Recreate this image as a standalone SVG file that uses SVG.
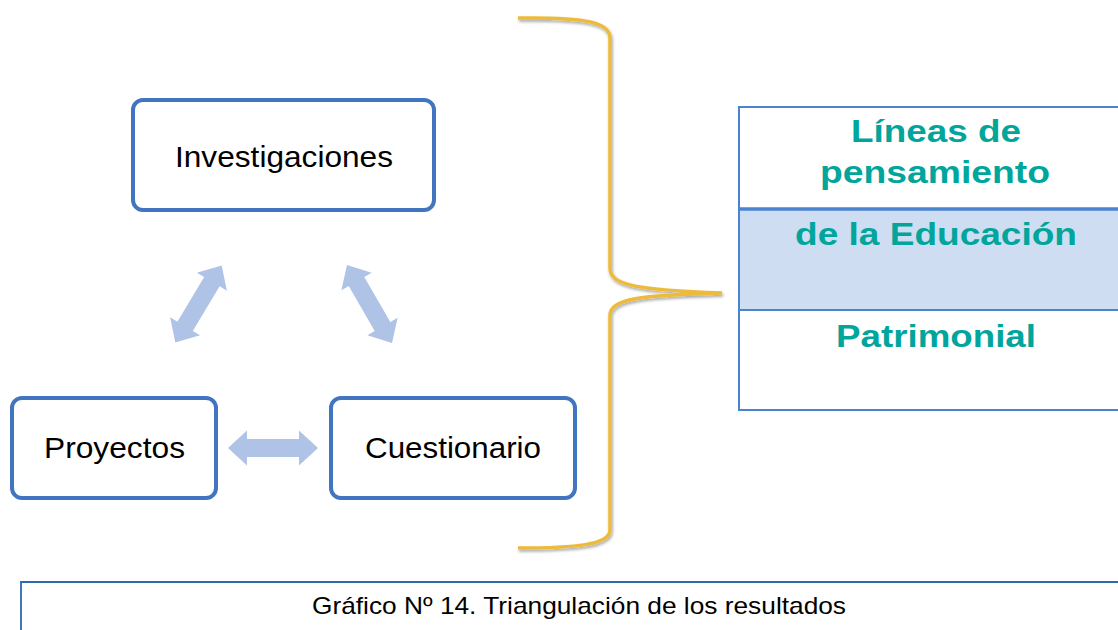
<svg xmlns="http://www.w3.org/2000/svg" width="1118" height="630" viewBox="0 0 1118 630">
<style>
.node rect{fill:#fff;stroke:#4275BF;stroke-width:4}
.node text{font-family:"Liberation Sans",Arial,sans-serif;font-size:30px;fill:#000;text-anchor:middle}
.arr{fill:#AEC3E6}
.teal{font-family:"Liberation Sans",Arial,sans-serif;font-size:32px;font-weight:bold;fill:#00A59C;text-anchor:middle}
</style>
<defs>
<path id="dbl" d="M-45,0 L-26,-17.5 L-26,-9 L26,-9 L26,-17.5 L45,0 L26,17.5 L26,9 L-26,9 L-26,17.5 Z"/>
<filter id="sh" x="-20%" y="-5%" width="140%" height="110%">
<feDropShadow dx="1" dy="2" stdDeviation="1.5" flood-color="#000" flood-opacity="0.35"/>
</filter>
</defs>
<rect width="1118" height="630" fill="#fff"/>
<g id="connectors">
<use href="#dbl" class="arr" transform="translate(273,448)"/>
<use href="#dbl" class="arr" transform="translate(198.5,304) rotate(-59)"/>
<use href="#dbl" class="arr" transform="translate(369.5,304) rotate(60)"/>
</g>
<g id="investigaciones" class="node">
<rect x="133" y="100" width="301" height="110" rx="10"/>
<text x="284" y="167" textLength="218" lengthAdjust="spacingAndGlyphs">Investigaciones</text>
</g>
<g id="proyectos" class="node">
<rect x="12" y="398" width="204" height="100" rx="10"/>
<text x="114.5" y="458" textLength="141" lengthAdjust="spacingAndGlyphs">Proyectos</text>
</g>
<g id="cuestionario" class="node">
<rect x="331" y="398" width="244" height="100" rx="10"/>
<text x="453" y="458" textLength="176" lengthAdjust="spacingAndGlyphs">Cuestionario</text>
</g>
<g id="bracket">
<path d="M518,18 C585,17 610,22 610,38 L610,268 C610,286 640,290 722,293 C640,295 610,299 610,315 L610,530 C610,545 575,548 518,548" fill="none" stroke="#EDBB3A" stroke-width="3.5" filter="url(#sh)"/>
</g>
<g id="table">
<rect x="740" y="210" width="390" height="99" fill="#CEDDF2"/>
<rect x="739" y="107" width="400" height="303" fill="none" stroke="#4A84D0" stroke-width="2"/>
<line x1="739" y1="209" x2="1118" y2="209" stroke="#4A84D0" stroke-width="3.5"/>
<line x1="739" y1="310" x2="1118" y2="310" stroke="#4A84D0" stroke-width="2"/>
<text class="teal" x="936" y="142" textLength="170" lengthAdjust="spacingAndGlyphs">Líneas de</text>
<text class="teal" x="935" y="183" textLength="230" lengthAdjust="spacingAndGlyphs">pensamiento</text>
<text class="teal" x="936" y="245" textLength="282" lengthAdjust="spacingAndGlyphs">de la Educación</text>
<text class="teal" x="936" y="347" textLength="200" lengthAdjust="spacingAndGlyphs">Patrimonial</text>
</g>
<g id="caption">
<path d="M21,640 L21,582 L1130,582" fill="none" stroke="#2A6AAE" stroke-width="1.8"/>
<text x="579" y="614" font-family="Liberation Sans,Arial,sans-serif" font-size="24" text-anchor="middle" textLength="534" lengthAdjust="spacingAndGlyphs" fill="#000">Gráfico Nº 14. Triangulación de los resultados</text>
</g>
</svg>
